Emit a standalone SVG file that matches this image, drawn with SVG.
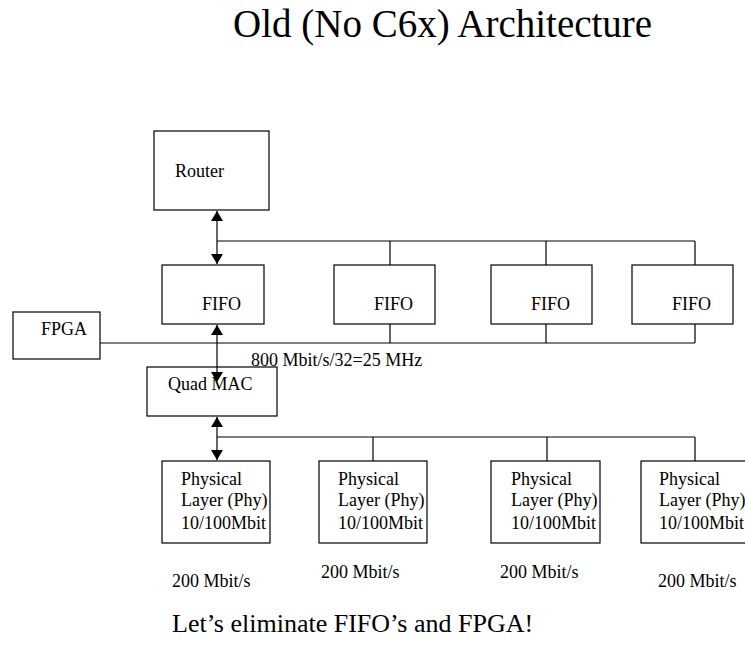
<svg xmlns="http://www.w3.org/2000/svg" width="745" height="646" viewBox="0 0 745 646">
  <style>
    text { font-family: "Liberation Serif", "Times New Roman", serif; fill: #000; }
    .box { fill: #fff; stroke: #000; stroke-width: 1.2; }
    .wire { fill: none; stroke: #000; stroke-width: 1.2; }
    .lbl { font-size: 18px; }
    .title { font-size: 39px; }
    .note { font-size: 26px; }
  </style>
  <defs>
    <marker id="tip" viewBox="0 0 10 12" refX="10" refY="6" markerWidth="10" markerHeight="12" markerUnits="userSpaceOnUse" orient="auto-start-reverse">
      <path d="M0,0 L10,6 L0,12 Z" fill="#000"/>
    </marker>
  </defs>

  <rect width="745" height="646" fill="#fff"/>

  <text class="title" x="233" y="37">Old (No C6x) Architecture</text>

  <!-- buses and links -->
  <g id="connectors">
    <!-- upper bus: Router to FIFOs -->
    <line class="wire" x1="217" y1="241" x2="695" y2="241"/>
    <line class="wire" x1="390" y1="241" x2="390" y2="265"/>
    <line class="wire" x1="546" y1="241" x2="546" y2="265"/>
    <line class="wire" x1="695" y1="241" x2="695" y2="265"/>
    <!-- lower bus: FPGA control to FIFOs -->
    <line class="wire" x1="100" y1="343" x2="695" y2="343"/>
    <line class="wire" x1="390" y1="324" x2="390" y2="343"/>
    <line class="wire" x1="546" y1="324" x2="546" y2="343"/>
    <line class="wire" x1="695" y1="324" x2="695" y2="343"/>
    <!-- PHY bus -->
    <line class="wire" x1="217" y1="437" x2="695" y2="437"/>
    <line class="wire" x1="373" y1="437" x2="373" y2="461"/>
    <line class="wire" x1="547" y1="437" x2="547" y2="461"/>
    <line class="wire" x1="695" y1="437" x2="695" y2="461"/>
    <!-- bidirectional links -->
    <line class="wire" x1="217" y1="211" x2="217" y2="264" marker-start="url(#tip)" marker-end="url(#tip)"/>
    <line class="wire" x1="217" y1="325" x2="217" y2="382" marker-start="url(#tip)" marker-end="url(#tip)"/>
    <line class="wire" x1="217" y1="417" x2="217" y2="460" marker-start="url(#tip)" marker-end="url(#tip)"/>
  </g>

  <g id="router">
    <rect class="box" x="154" y="131" width="115" height="79"/>
    <text class="lbl" x="175" y="177">Router</text>
  </g>

  <g id="fifo1">
    <rect class="box" x="162" y="265" width="102" height="59"/>
    <text class="lbl" x="202" y="310">FIFO</text>
  </g>
  <g id="fifo2">
    <rect class="box" x="334" y="265" width="101" height="59"/>
    <text class="lbl" x="374" y="310">FIFO</text>
  </g>
  <g id="fifo3">
    <rect class="box" x="491" y="265" width="101" height="59"/>
    <text class="lbl" x="531" y="310">FIFO</text>
  </g>
  <g id="fifo4">
    <rect class="box" x="632" y="265" width="101" height="59"/>
    <text class="lbl" x="672" y="310">FIFO</text>
  </g>

  <g id="fpga">
    <rect class="box" x="13" y="312" width="87" height="47"/>
    <text class="lbl" x="41" y="335">FPGA</text>
  </g>

  <g id="quad-mac">
    <rect class="box" x="147" y="367" width="130" height="49"/>
    <text class="lbl" x="168" y="390">Quad MAC</text>
  </g>
  <!-- arrow tip that overlaps the MAC box, drawn on top of it -->
  <line class="wire" x1="217" y1="367" x2="217" y2="372"/>
  <path d="M211,372 L223,372 L217,382 Z" fill="#000"/>

  <text class="lbl" x="251" y="366">800 Mbit/s/32=25 MHz</text>

  <g id="phy1">
    <rect class="box" x="162" y="461" width="108" height="82"/>
    <text class="lbl" x="181" y="485">Physical</text>
    <text class="lbl" x="181" y="506">Layer (Phy)</text>
    <text class="lbl" x="181" y="529">10/100Mbit</text>
  </g>
  <g id="phy2">
    <rect class="box" x="319" y="461" width="108" height="82"/>
    <text class="lbl" x="338" y="485">Physical</text>
    <text class="lbl" x="338" y="506">Layer (Phy)</text>
    <text class="lbl" x="338" y="529">10/100Mbit</text>
  </g>
  <g id="phy3">
    <rect class="box" x="491" y="461" width="109" height="82"/>
    <text class="lbl" x="511" y="485">Physical</text>
    <text class="lbl" x="511" y="506">Layer (Phy)</text>
    <text class="lbl" x="511" y="529">10/100Mbit</text>
  </g>
  <g id="phy4">
    <rect class="box" x="641" y="461" width="110" height="82"/>
    <text class="lbl" x="659" y="485">Physical</text>
    <text class="lbl" x="659" y="506">Layer (Phy)</text>
    <text class="lbl" x="659" y="529">10/100Mbit</text>
  </g>

  <text class="lbl" x="172" y="587">200 Mbit/s</text>
  <text class="lbl" x="321" y="578">200 Mbit/s</text>
  <text class="lbl" x="500" y="578">200 Mbit/s</text>
  <text class="lbl" x="658" y="587">200 Mbit/s</text>

  <text class="note" x="172" y="632">Let’s eliminate FIFO’s and FPGA!</text>
</svg>
